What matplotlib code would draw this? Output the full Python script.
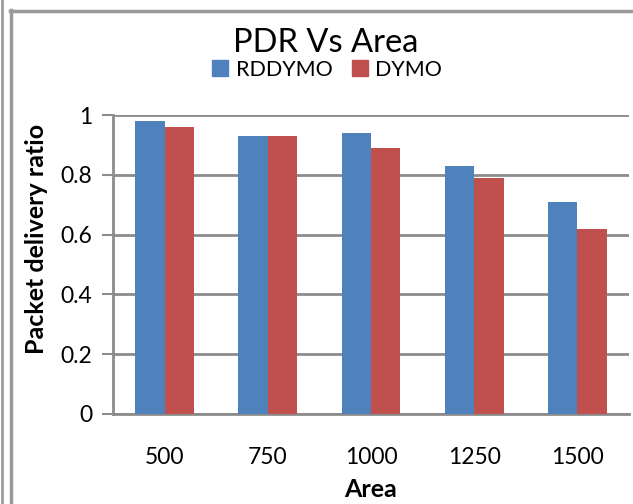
import matplotlib
matplotlib.use("Agg")
import matplotlib.pyplot as plt
import numpy as np
from matplotlib.lines import Line2D

categories = ["500", "750", "1000", "1250", "1500"]
rddymo = [0.98, 0.93, 0.94, 0.83, 0.71]
dymo = [0.96, 0.93, 0.89, 0.79, 0.62]
yticks = [0, 0.2, 0.4, 0.6, 0.8, 1]
ytick_labels = ["0", "0.2", "0.4", "0.6", "0.8", "1"]

plt.rcParams['font.family'] = ['Lato', 'DejaVu Sans']

W, H = 633, 504
fig = plt.figure(figsize=(W / 100, H / 100), dpi=100)
ax = fig.add_axes([113 / W, 1 - 414 / H, (629 - 113) / W, (414 - 115) / H])

blue = "#4F81BD"
red = "#C0504D"
grid_c = "#8C8C8C"

x = np.arange(len(categories))
bw = 0.285
ax.bar(x - bw / 2, rddymo, bw, color=blue, zorder=3, label="RDDYMO")
ax.bar(x + bw / 2, dymo, bw, color=red, zorder=3, label="DYMO")

ax.set_xlim(-0.5, len(categories) - 0.5)
ax.set_ylim(0, 1)
ax.set_yticks(yticks)
ax.set_yticklabels(ytick_labels, fontsize=16.5)
ax.set_xticks(x)
ax.set_xticklabels(categories, fontsize=16.5)
ax.tick_params(axis='x', length=0, pad=24)
ax.tick_params(axis='y', length=8, width=1.5, color=grid_c, pad=7)

ax.grid(axis='y', color=grid_c, linewidth=2, zorder=0)
ax.set_axisbelow(True)
for s in ['top', 'right']:
    ax.spines[s].set_visible(False)
for s in ['left', 'bottom']:
    ax.spines[s].set_color(grid_c)
    ax.spines[s].set_linewidth(2)

ax.set_ylabel("Packet delivery ratio", fontsize=18, fontweight='bold')
ax.yaxis.set_label_coords(-0.126, 0.585)
ax.set_xlabel("Area", fontsize=18, fontweight='bold', labelpad=7)

fig.text(326 / W, 1 - 52 / H, "PDR Vs Area", fontsize=23.5, ha='center', va='baseline')

handles = [Line2D([], [], marker='s', color=blue, linestyle='none', markersize=11),
           Line2D([], [], marker='s', color=red, linestyle='none', markersize=11)]
fig.legend(handles, ["RDDYMO", "DYMO"], loc='center', bbox_to_anchor=(327 / W, 1 - 70 / H),
           ncol=2, frameon=False, fontsize=15.5, handlelength=0.8, handletextpad=0.3,
           columnspacing=0.9)

# outer border lines
border_c = "#9A9A9A"
fig.add_artist(Line2D([1.5 / W, 1.5 / W], [0, 1], transform=fig.transFigure, color=border_c, linewidth=2))
fig.add_artist(Line2D([10.5 / W, 10.5 / W], [0, 1 - 10 / H], transform=fig.transFigure, color=border_c, linewidth=2.5))
fig.add_artist(Line2D([10 / W, 1], [1 - 10.5 / H, 1 - 10.5 / H], transform=fig.transFigure, color=border_c, linewidth=2.5))

fig.savefig("out.png", dpi=100)
